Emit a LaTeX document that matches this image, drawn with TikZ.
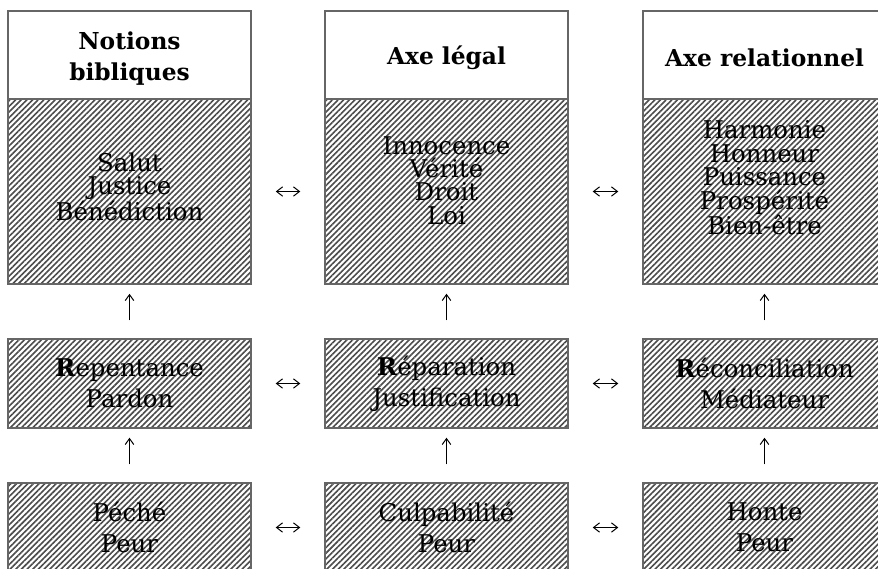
\documentclass[tikz,border=0pt]{standalone}
\usepackage{fontspec}
\setmainfont{DejaVu Serif}
\usepackage{tikz}
\usetikzlibrary{arrows.meta, patterns.meta}

\begin{document}
\begin{tikzpicture}[x=0.75pt, y=-0.75pt,
	frame/.style={draw=black!60, line width=1.1pt, minimum width=182.25pt, inner sep=0pt},
	headbox/.style={frame, fill=white, minimum height=66pt, align=center,
		font={\fontsize{17.5pt}{23.5pt}\selectfont\bfseries}},
	hatched/.style={frame, pattern={Lines[angle=45, distance=3pt, line width=1.2pt]}, pattern color=black!70},
	tallbox/.style={hatched, minimum height=138.75pt},
	rowbox/.style={hatched, minimum height=66.75pt, align=center,
		font={\fontsize{18.3pt}{23.25pt}\selectfont}},
	listtext/.style={align=center, inner sep=0pt, font={\fontsize{18.3pt}{17.6pt}\selectfont}},
	uparrow/.style={-{Straight Barb[length=4.5pt, width=6.5pt]}, line width=0.75pt, shorten <=13.5pt, shorten >=6.75pt},
	sidearrow/.style={{Straight Barb[length=4.5pt, width=7pt]}-{Straight Barb[length=4.5pt, width=7pt]}, line width=0.75pt, shorten <=18pt, shorten >=18pt}]
				\useasboundingbox (0,0) rectangle (878,568);
				\clip (0,0) rectangle (878,568);
				\fill[white] (0,0) rectangle (878,568);
				% column heads
				\node[headbox] (head0) at (129.5,55) {};
				\node[headbox] (head1) at (446.5,55) {};
				\node[headbox] (head2) at (764.5,55) {};
				\node[headbox, draw=none, fill=none, minimum height=0pt] (title0) at (129.5,58.5) {Notions\\bibliques};
				\node[headbox, draw=none, fill=none, minimum height=0pt] (title1) at (446.5,58) {Axe légal};
				\node[headbox, draw=none, fill=none, minimum height=0pt] (title2) at (764.5,58) {Axe relationnel};
				% top row
				\node[tallbox] (cell02) at (129.5,191.5) {};
				\node[tallbox] (cell12) at (446.5,191.5) {};
				\node[tallbox] (cell22) at (764.5,191.5) {};
				\node[listtext] (list0) at (129.5,187) {Salut\\Justice\\Bénédiction};
				\node[listtext] (list1) at (446.5,180.5) {Innocence\\Vérité\\Droit\\Loi};
				\node[listtext] (list2) at (764.5,178) {Harmonie\\Honneur\\Puissance\\Prospérité\\Bien-être};
				% middle row
				\node[rowbox] (cell01) at (129.5,383.5) {\textbf{R}epentance\\Pardon};
				\node[rowbox] (cell11) at (446.5,383.5) {\textbf{R}éparation\\Justification};
				\node[rowbox] (cell21) at (764.5,383.5) {\textbf{R}éconciliation\\Médiateur};
				% bottom row
				\node[rowbox] (cell00) at (129.5,527.5) {Péché\\Peur};
				\node[rowbox] (cell10) at (446.5,527.5) {Culpabilité\\Peur};
				\node[rowbox] (cell20) at (764.5,527.5) {Honte\\Peur};
				\draw[uparrow] (cell00) -- (cell01);
				\draw[uparrow] (cell01) -- (cell02);
				\draw[uparrow] (cell10) -- (cell11);
				\draw[uparrow] (cell11) -- (cell12);
				\draw[uparrow] (cell20) -- (cell21);
				\draw[uparrow] (cell21) -- (cell22);
				\draw[sidearrow] (cell02) -- (cell12);
				\draw[sidearrow] (cell12) -- (cell22);
				\draw[sidearrow] (cell01) -- (cell11);
				\draw[sidearrow] (cell11) -- (cell21);
				\draw[sidearrow] (cell00) -- (cell10);
				\draw[sidearrow] (cell10) -- (cell20);
			\end{tikzpicture}
\end{document}
